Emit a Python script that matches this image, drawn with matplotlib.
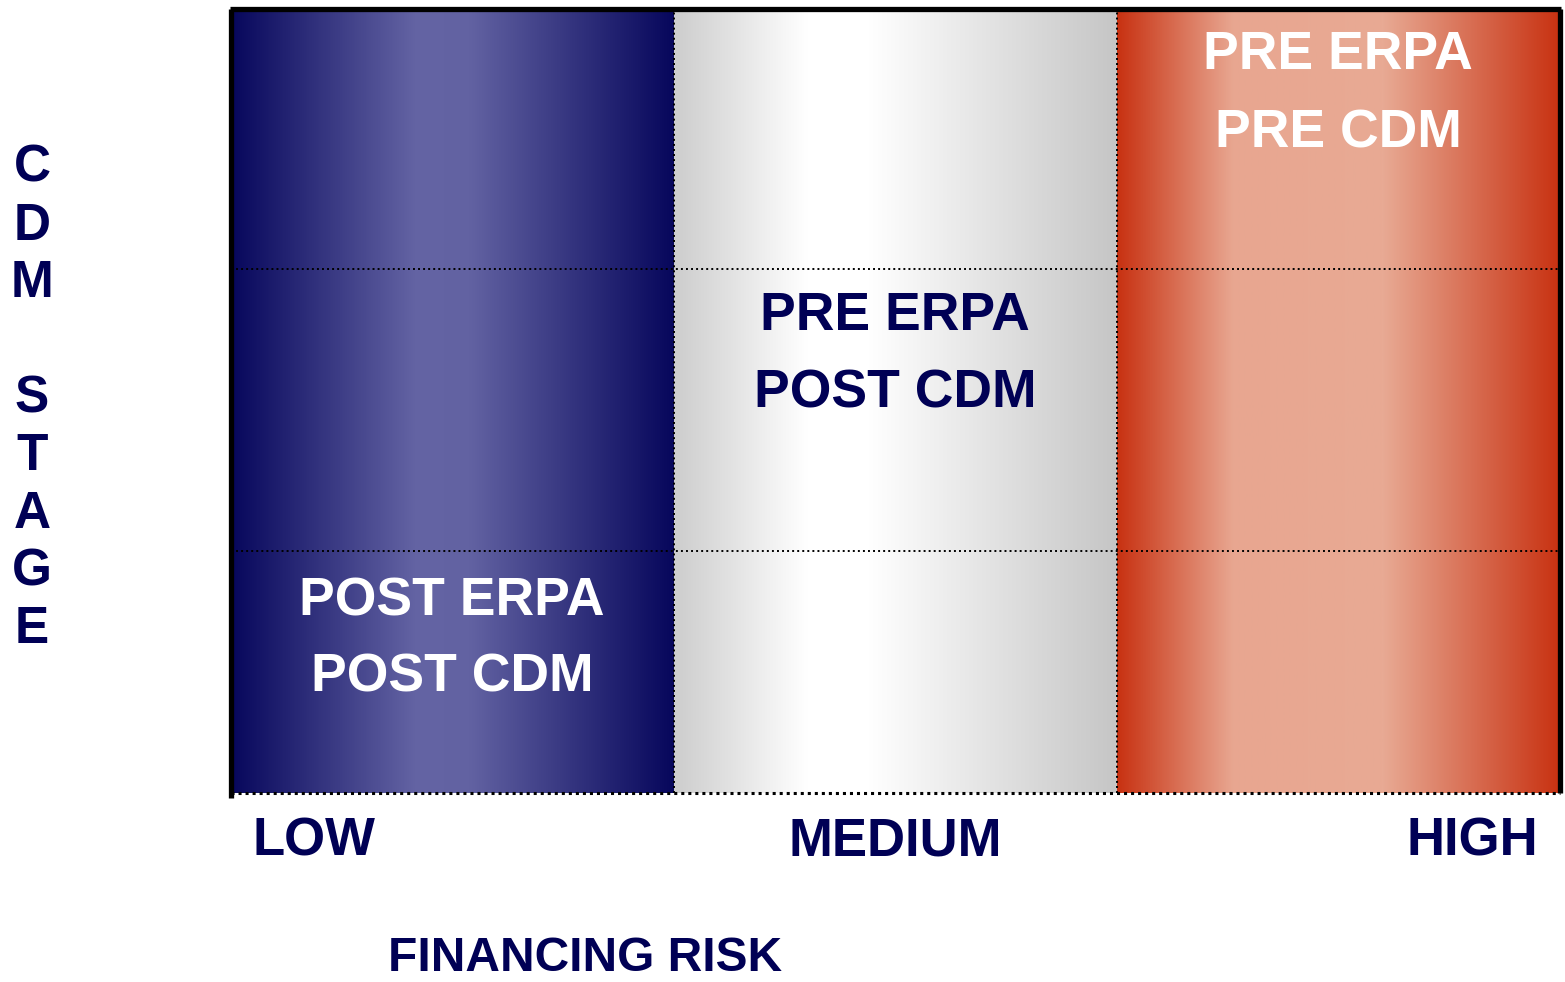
import matplotlib
matplotlib.use("Agg")
import matplotlib.pyplot as plt
import numpy as np
from matplotlib.colors import LinearSegmentedColormap

# ---- data ----
risk_levels = ["LOW", "MEDIUM", "HIGH"]
y_axis_label = "CDM STAGE"
x_axis_label = "FINANCING RISK"
# stage row boundaries (fraction of plot height, bottom -> top)
row_bounds = [0.0, 0.309, 0.668, 1.0]
# cell labels: (column index, row index from bottom, lines, text colour)
cell_labels = [
    (0, 0, ["POST ERPA", "POST CDM"], "white"),
    (1, 1, ["PRE ERPA", "POST CDM"], "#000055"),
    (2, 2, ["PRE ERPA", "PRE CDM"], "white"),
]
# gradient colour stops per column (position, colour)
band_stops = [
    [(0.0, "#07075c"), (0.42, "#6464a4"), (0.54, "#6262a2"), (1.0, "#07075c")],
    [(0.0, "#cdcdcd"), (0.3, "#ffffff"), (0.44, "#ffffff"), (1.0, "#c6c6c6")],
    [(0.0, "#c83212"), (0.26, "#e8a690"), (0.6, "#e8aa94"), (1.0, "#c83212")],
]

W, H = 1565, 982
NAVY = "#000055"
FONT = "Liberation Sans"

fig = plt.figure(figsize=(W / 100, H / 100), dpi=100)
left_px, right_px, top_px, bottom_px = 231.5, 1559.5, 8.5, 793.0
ax = fig.add_axes([left_px / W, 1 - bottom_px / H,
                   (right_px - left_px) / W, (bottom_px - top_px) / H])
ncol = len(risk_levels)
ax.set_xlim(0, ncol)
ax.set_ylim(0, 1)
ax.axis("off")

grad = np.linspace(0, 1, 512).reshape(1, -1)
for i, stops in enumerate(band_stops):
    cmap = LinearSegmentedColormap.from_list(f"band{i}", stops)
    ax.imshow(grad, cmap=cmap, extent=(i, i + 1, 0, 1), aspect="auto",
              interpolation="bilinear", zorder=1)

# dividers
for i in range(1, ncol):
    ax.plot([i, i], [0, 1], color="black", lw=1.4, ls=(0, (1, 1.6)), zorder=3)
for b in row_bounds[1:-1]:
    ax.plot([0, ncol], [b, b], color="black", lw=1.4, ls=(0, (1, 1.6)), zorder=3)
ax.plot([0, ncol], [0, 0], color="black", lw=2.2, ls=(0, (1, 1.3)), zorder=3,
        clip_on=False)
# thick frame
ax.plot([0, 0], [-0.006, 1], color="black", lw=3.8, zorder=4, clip_on=False,
        solid_capstyle="butt")
ax.plot([ncol, ncol], [0, 1], color="black", lw=3.8, zorder=4, clip_on=False,
        solid_capstyle="butt")
ax.plot([-0.004, ncol + 0.003], [1, 1], color="black", lw=3.8, zorder=4,
        clip_on=False, solid_capstyle="butt")

# cell labels (baselines in pixels)
baselines_px = {0: (615, 691), 1: (330, 407), 2: (69, 148)}
centers_px = {0: 452, 1: 895, 2: 1338}
for col, row, lines, colr in cell_labels:
    for line, by in zip(lines, baselines_px[col]):
        fig.text(centers_px[col] / W, 1 - by / H, line, ha="center",
                 va="baseline", fontsize=38.5, fontweight="bold",
                 family=FONT, color=colr)

# risk level labels
fig.text(253 / W, 1 - 855 / H, risk_levels[0], ha="left", va="baseline",
         fontsize=38, fontweight="bold", family=FONT, color=NAVY)
fig.text(895 / W, 1 - 855 / H, risk_levels[1], ha="center", va="baseline",
         fontsize=38, fontweight="bold", family=FONT, color=NAVY)
fig.text(1538 / W, 1 - 855 / H, risk_levels[2], ha="right", va="baseline",
         fontsize=38, fontweight="bold", family=FONT, color=NAVY)

# x axis label
fig.text(585 / W, 1 - 971 / H, x_axis_label, ha="center", va="baseline",
         fontsize=34.5, fontweight="bold", family=FONT, color=NAVY)

# y axis label, stacked letters
y0, step = 182, 57.6
for k, ch in enumerate(y_axis_label):
    if ch == " ":
        continue
    fig.text(32 / W, 1 - (y0 + k * step) / H, ch, ha="center", va="baseline",
             fontsize=37, fontweight="bold", family=FONT, color=NAVY)

fig.savefig("out.png", dpi=100)
